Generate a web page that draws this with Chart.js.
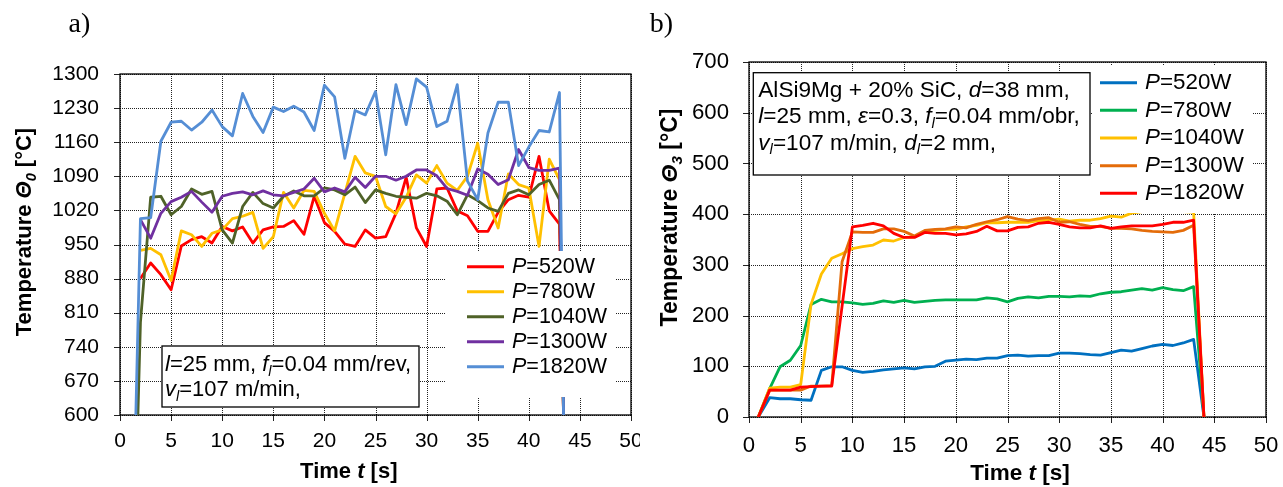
<!DOCTYPE html>
<html>
<head>
<meta charset="utf-8">
<script src="https://cdn.jsdelivr.net/npm/chart.js@4.4.0/dist/chart.umd.min.js"></script>
<style>
  body { margin: 0; background: #fff; }
  #wrap { position: relative; width: 1283px; height: 487px; overflow: hidden; }
  canvas { position: absolute; top: 0; }
  #chartA { left: 0; }
  #chartB { left: 640px; }
</style>
</head>
<body>
<div id="wrap">
  <canvas id="chartA" width="640" height="487"></canvas>
  <canvas id="chartB" width="643" height="487"></canvas>
</div>
<script>
// ---- data, chart a) : cutting zone temperature ----
const powerA = ['520', '780', '1040', '1300', '1820'];
const timeA = [2, 3, 4, 5, 6, 7, 8, 9, 10, 11, 12, 13, 14, 15, 16, 17, 18, 19, 20, 21, 22,
  23, 24, 25, 26, 27, 28, 29, 30, 31, 32, 33, 34, 35, 36, 37, 38, 39, 40, 41, 42, 43];
const tempA520 = [880, 912, 888, 857, 947, 960, 966, 953, 987, 978, 986, 953, 980, 986, 987, 999,
  971, 1049, 995, 977, 951, 946, 980, 963, 966, 1014, 1088, 984, 946, 1064, 1066, 1019, 1009,
  977, 977, 1016, 1042, 1051, 1047, 1131, 1019, 992];
const tempA780 = [938, 942, 929, 876, 978, 970, 946, 973, 980, 1003, 1008, 1016, 942, 966, 1057,
  1025, 1061, 1059, 1014, 978, 1055, 1131, 1097, 1090, 1028, 1013, 1047, 1093, 1076, 1112, 1076,
  1061, 1090, 1158, 1042, 984, 1095, 1073, 1066, 946, 1125, 1083];
const tempA1040 = [790, 1047, 1049, 1011, 1028, 1064, 1053, 1059, 980, 953, 1028, 1057, 1034, 1025,
  1049, 1060, 1050, 1050, 1066, 1062, 1052, 1068, 1036, 1062, 1055, 1049, 1047, 1045, 1055, 1050,
  1039, 1011, 1052, 1040, 1025, 1018, 1055, 1062, 1052, 1073, 1082, 1042];
const tempA1300 = [1001, 963, 1014, 1038, 1047, 1059, 1037, 1016, 1049, 1055, 1058, 1052, 1060, 1052,
  1050, 1057, 1064, 1086, 1058, 1066, 1058, 1088, 1067, 1090, 1090, 1082, 1090, 1103, 1103, 1091,
  1065, 1059, 1051, 1105, 1094, 1073, 1083, 1145, 1108, 1102, 1102, 1107];
const tempA1820 = [1003, 1005, 1162, 1201, 1203, 1185, 1201, 1226, 1192, 1173, 1260, 1213, 1180, 1232,
  1223, 1234, 1222, 1184, 1277, 1253, 1127, 1225, 1216, 1264, 1134, 1278, 1196, 1290, 1273, 1192,
  1203, 1278, 1080, 1042, 1179, 1242, 1242, 1112, 1150, 1184, 1181, 1262];
const startA1040 = [1.75, 600];
const startA1820 = [1.55, 600];
const endA = [43.4, 600];
const ticksA = [600, 1300, 70];

// ---- data, chart b) : workpiece temperature ----
const powerB = ['520', '780', '1040', '1300', '1820'];
const timeB = [2, 3, 4, 5, 6, 7, 8, 9, 10, 11, 12, 13, 14, 15, 16, 17, 18, 19, 20, 21, 22,
  23, 24, 25, 26, 27, 28, 29, 30, 31, 32, 33, 34, 35, 36, 37, 38, 39, 40, 41, 42, 43];
const tempB520 = [38, 36, 36, 34, 33, 92, 99, 99, 92, 88, 90, 93, 95, 97, 95, 99, 100, 110, 112, 114,
  113, 116, 116, 121, 122, 120, 121, 121, 126, 126, 125, 123, 122, 127, 132, 130, 135, 140, 143,
  141, 146, 153];
const tempB780 = [56, 99, 112, 141, 222, 232, 227, 227, 225, 222, 224, 229, 226, 230, 226, 228, 230,
  231, 231, 231, 231, 235, 233, 227, 234, 237, 235, 238, 238, 237, 239, 238, 243, 246, 247, 250,
  253, 250, 255, 251, 249, 257];
const tempB1040 = [57, 59, 59, 64, 222, 282, 313, 322, 332, 336, 339, 349, 347, 354, 355, 366, 368,
  370, 370, 375, 378, 383, 383, 384, 384, 384, 387, 388, 390, 386, 388, 388, 391, 396, 394, 402,
  405, 405, 405, 405, 405, 404];
const tempB1300 = [53, 53, 53, 53, 61, 61, 62, 306, 365, 364, 364, 371, 371, 366, 357, 368, 370, 371,
  375, 373, 380, 385, 389, 395, 390, 387, 391, 393, 384, 385, 380, 376, 376, 372, 372, 371, 368,
  366, 365, 364, 368, 378];
const tempB1820 = [53, 53, 53, 59, 60, 61, 61, 218, 375, 378, 382, 377, 362, 354, 354, 364, 362, 362,
  359, 361, 366, 376, 367, 367, 374, 375, 382, 384, 380, 375, 373, 373, 377, 372, 375, 377, 377,
  377, 380, 384, 384, 388];
const startB = [0.9, 0];
const endB = [44, 0];
const ticksB = [0, 700, 100];
const timeTicks = [0, 50, 5];

// ---- text ----
const annotA = ['{i:l}=25 mm, {i:f}{s:l}=0.04 mm/rev,', '{i:v}{s:l}=107 m/min,'];
const annotB = ['AlSi9Mg + 20% SiC, {i:d}=38 mm,', '{i:l}=25 mm, {i:\u03b5}=0.3, {i:f}{s:l}=0.04 mm/obr,',
  '{i:v}{s:l}=107 m/min, {i:d}{s:l}=2 mm,'];

const SANS = '"Liberation Sans", Arial, sans-serif';

function parseRich(str) {
  return str.split(/(\{[is]:[^}]*\})/).filter(Boolean).map(p => {
    const m = p.match(/^\{([is]):([^}]*)\}$/);
    return m ? { t: m[2], it: true, sub: m[1] === 's' } : { t: p };
  });
}
function runFont(r, size, bold) {
  const sz = r.sub ? size * 0.66 : size;
  return (r.it ? 'italic ' : '') + (bold ? 'bold ' : '') + sz.toFixed(1) + 'px ' + SANS;
}
function richWidth(ctx, runs, size, bold) {
  let w = 0;
  runs.forEach(r => { ctx.font = runFont(r, size, bold); w += ctx.measureText(r.t).width; });
  return w;
}
function drawRich(ctx, runs, x, y, size, bold) {
  ctx.textBaseline = 'middle';
  ctx.textAlign = 'left';
  runs.forEach(r => {
    ctx.font = runFont(r, size, bold);
    ctx.fillText(r.t, x, r.sub ? y + size * 0.3 : y);
    x += ctx.measureText(r.t).width;
  });
}

function series(times, values, start, end) {
  const pts = times.map((t, i) => ({ x: t, y: values[i] }));
  if (start) pts.unshift({ x: start[0], y: start[1] });
  pts.push({ x: end[0], y: end[1] });
  return pts;
}

const deco = {
  id: 'deco',
  beforeDatasetsDraw(chart, args, o) {
    const ctx = chart.ctx;
    const a = chart.chartArea;
    const xs = chart.scales.x;
    const ys = chart.scales.y;
    ctx.save();
    // dotted grid (drawn as single-pixel dots) + outside tick marks, placed by the chart's scales
    ctx.fillStyle = '#222';
    for (let v = timeTicks[0]; v <= timeTicks[1]; v += timeTicks[2]) {
      const px = Math.round(xs.getPixelForValue(v));
      for (let y = Math.ceil(a.top); y < a.bottom; y += 2) ctx.fillRect(px, y, 1, 1);
      ctx.fillRect(px, a.bottom, 1, 6);
    }
    const yt = o.yTicks;
    for (let v = yt[0]; v <= yt[1]; v += yt[2]) {
      const py = Math.round(ys.getPixelForValue(v));
      for (let x = Math.ceil(a.left); x < a.right; x += 2) ctx.fillRect(x, py, 1, 1);
      ctx.fillRect(a.left - 6, py, 6, 1);
    }
    // plot frame
    ctx.strokeStyle = '#000';
    ctx.lineWidth = 1.3;
    ctx.strokeRect(a.left, a.top, a.right - a.left, a.bottom - a.top);
    ctx.restore();
  },
  afterDatasetsDraw(chart, args, o) {
    const ctx = chart.ctx;
    ctx.save();
    const lb = o.legendBox;
    ctx.fillStyle = '#fff';
    ctx.fillRect(lb[0], lb[1], lb[2], lb[3]);
    chart.data.datasets.forEach((ds, i) => {
      const y = o.legendY + i * o.legendStep;
      ctx.strokeStyle = ds.borderColor;
      ctx.lineWidth = 3;
      ctx.beginPath();
      ctx.moveTo(o.legendLine[0], y);
      ctx.lineTo(o.legendLine[1], y);
      ctx.stroke();
      ctx.fillStyle = '#000';
      drawRich(ctx, parseRich(ds.label), o.legendTextX, y, o.legendSize, false);
    });
    const ab = o.annotBox;
    ctx.fillStyle = '#fff';
    ctx.fillRect(ab[0], ab[1], ab[2], ab[3]);
    ctx.strokeStyle = '#000';
    ctx.lineWidth = 1.3;
    ctx.strokeRect(ab[0], ab[1], ab[2], ab[3]);
    ctx.fillStyle = '#000';
    o.annot.forEach((line, i) => {
      drawRich(ctx, parseRich(line), o.annotX, o.annotY + i * o.annotStep, o.annotSize, false);
    });
    ctx.restore();
  },
  afterDraw(chart, args, o) {
    const ctx = chart.ctx;
    ctx.save();
    ctx.fillStyle = '#000';
    // panel letter
    ctx.font = o.letterSize + 'px "Liberation Serif", "Times New Roman", serif';
    ctx.textAlign = 'center';
    ctx.textBaseline = 'middle';
    ctx.fillText(o.letter, o.letterPos[0], o.letterPos[1]);
    // x title
    const xr = parseRich(o.xTitle);
    const xw = richWidth(ctx, xr, o.xTitleSize, true);
    drawRich(ctx, xr, o.xTitlePos[0] - xw / 2, o.xTitlePos[1], o.xTitleSize, true);
    // y title
    const yr = parseRich(o.yTitle);
    const yw = richWidth(ctx, yr, o.yTitleSize, true);
    ctx.translate(o.yTitlePos[0], o.yTitlePos[1]);
    ctx.rotate(-Math.PI / 2);
    drawRich(ctx, yr, -yw / 2, 0, o.yTitleSize, true);
    ctx.restore();
  }
};

function makeChart(id, cfg) {
  const datasets = cfg.sets.map((s, i) => ({
    label: '{i:P}=' + s.power + 'W',
    data: s.data,
    borderColor: s.color,
    borderWidth: 2.8,
    pointRadius: 0,
    tension: 0,
    fill: false,
    borderJoinStyle: 'round',
    order: cfg.sets.length - i
  }));
  const tickFont = { family: SANS, size: cfg.tickSize };
  cfg.deco.yTicks = cfg.yTicks;
  return new Chart(document.getElementById(id), {
    type: 'line',
    data: { datasets: datasets },
    plugins: [deco],
    options: {
      responsive: false,
      animation: false,
      devicePixelRatio: 1,
      layout: { padding: cfg.padding },
      plugins: {
        legend: { display: false },
        tooltip: { enabled: false },
        deco: cfg.deco
      },
      scales: {
        x: {
          type: 'linear',
          min: timeTicks[0],
          max: timeTicks[1],
          ticks: { stepSize: timeTicks[2], color: '#000', font: tickFont, padding: cfg.xPad,
            maxRotation: 0, callback: v => String(v) },
          grid: { color: 'rgba(0,0,0,0)', tickColor: 'rgba(0,0,0,0)', tickLength: 6 },
          border: { display: false },
          afterFit: s => { s.height = cfg.xHeight; s.paddingLeft = 0; s.paddingRight = 0; }
        },
        y: {
          min: cfg.yTicks[0],
          max: cfg.yTicks[1],
          ticks: { stepSize: cfg.yTicks[2], color: '#000', font: tickFont, padding: cfg.yPad,
            callback: v => String(v) },
          grid: { color: 'rgba(0,0,0,0)', tickColor: 'rgba(0,0,0,0)', tickLength: 6 },
          border: { display: false },
          afterFit: s => { s.width = cfg.yWidth; s.paddingTop = 0; s.paddingBottom = 0; }
        }
      }
    }
  });
}

makeChart('chartA', {
  sets: [
    { power: powerA[0], color: '#FF0000', data: series(timeA, tempA520, null, endA) },
    { power: powerA[1], color: '#FFC000', data: series(timeA, tempA780, null, endA) },
    { power: powerA[2], color: '#4F6228', data: series(timeA, tempA1040, startA1040, endA) },
    { power: powerA[3], color: '#7030A0', data: series(timeA, tempA1300, null, endA) },
    { power: powerA[4], color: '#558ED5', data: series(timeA, tempA1820, startA1820, endA) }
  ],
  yTicks: ticksA,
  tickSize: 21,
  padding: { top: 74, right: 9, bottom: 0, left: 0 },
  yWidth: 120,
  xHeight: 72,
  xPad: 8,
  yPad: 15,
  deco: {
    letter: 'a)', letterPos: [79.5, 25], letterSize: 28,
    xTitle: 'Time {i:t} [s]', xTitlePos: [348.8, 471.7], xTitleSize: 22,
    yTitle: 'Temperature {i:\u0398}{s:0} [\u00b0C]', yTitlePos: [25, 232], yTitleSize: 22,
    legendBox: [446, 251, 169, 146], legendLine: [467, 504], legendTextX: 512,
    legendY: 266.7, legendStep: 25, legendSize: 21.5,
    annot: annotA, annotBox: [162, 346, 257, 61], annotX: 165, annotY: 365, annotStep: 25,
    annotSize: 22
  }
});

makeChart('chartB', {
  sets: [
    { power: powerB[0], color: '#0070C0', data: series(timeB, tempB520, startB, endB) },
    { power: powerB[1], color: '#00B050', data: series(timeB, tempB780, startB, endB) },
    { power: powerB[2], color: '#FFC000', data: series(timeB, tempB1040, startB, endB) },
    { power: powerB[3], color: '#E46C0A', data: series(timeB, tempB1300, startB, endB) },
    { power: powerB[4], color: '#FF0000', data: series(timeB, tempB1820, startB, endB) }
  ],
  yTicks: ticksB,
  tickSize: 22.2,
  padding: { top: 62, right: 17, bottom: 0, left: 0 },
  yWidth: 109,
  xHeight: 70,
  xPad: 10,
  yPad: 14,
  deco: {
    letter: 'b)', letterPos: [21.5, 25], letterSize: 28,
    xTitle: 'Time {i:t} [s]', xTitlePos: [380, 473.3], xTitleSize: 22.5,
    yTitle: 'Temperature {i:\u0398}{s:3} [\u00b0C]', yTitlePos: [31, 217.5], yTitleSize: 23,
    legendBox: [452, 66, 161, 147], legendLine: [460, 497], legendTextX: 505,
    legendY: 82.7, legendStep: 27.65, legendSize: 22.4,
    annot: annotB, annotBox: [113.3, 72.7, 336.7, 102.3], annotX: 118.3, annotY: 91,
    annotStep: 26.2, annotSize: 22.6
  }
});
</script>
</body>
</html>
